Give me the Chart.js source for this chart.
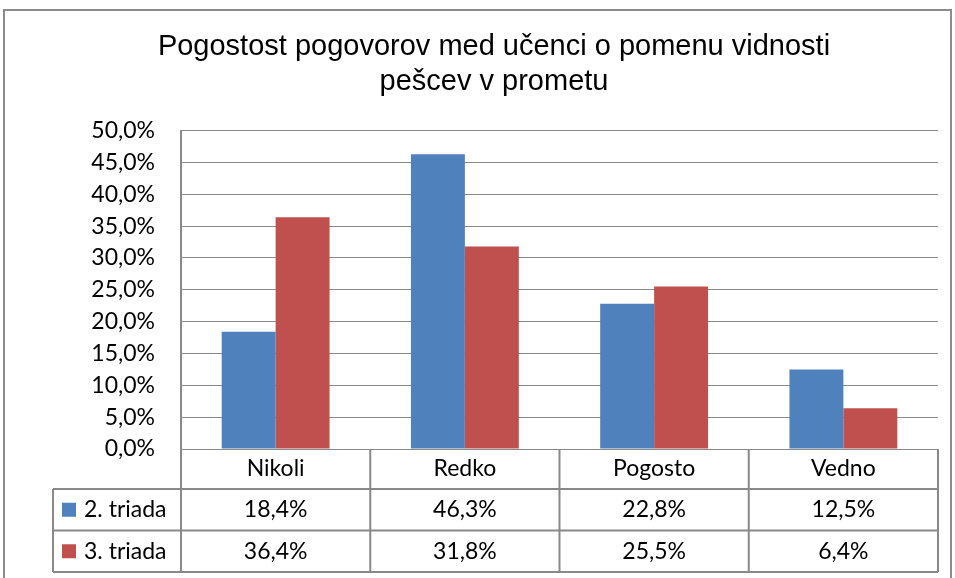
<!DOCTYPE html>
<html><head><meta charset="utf-8">
<script src="https://cdn.jsdelivr.net/npm/chart.js@4"></script>
<style>html,body{margin:0;padding:0;background:#fff}#wrap{width:955px;height:578px;position:relative}</style>
</head><body><div id="wrap"><canvas id="c" width="955" height="578"></canvas></div>
<script>
const categories = ['Nikoli', 'Redko', 'Pogosto', 'Vedno'];
const seriesNames = ['2. triada', '3. triada'];
const triada2 = [18.4, 46.3, 22.8, 12.5];
const triada3 = [36.4, 31.8, 25.5, 6.4];
const titleLines = ['Pogostost pogovorov med učenci o pomenu vidnosti', 'pešcev v prometu'];
const colors = ['#4F81BD', '#C0504D'];

const fmt = v => v.toFixed(1).replace('.', ',') + '%';
const FONT = 'Lato, "Open Sans", sans-serif';
const LINE = '#898989';

const tablePlugin = {
  id: 'dataTable',
  afterDraw(chart) {
    const ctx = chart.ctx;
    const x = chart.scales.x, area = chart.chartArea;
    const top = area.bottom, rowH = 41.5;
    const left = 53;
    const bounds = [];
    for (let i = 0; i < categories.length; i++) {
      const c = x.getPixelForValue(i);
      const w = x.width / categories.length;
      bounds.push([c - w / 2, c + w / 2]);
    }
    ctx.save();
    ctx.strokeStyle = LINE;
    ctx.lineWidth = 2;
    const r1 = top + 40, r2 = r1 + rowH, r3 = r2 + rowH;
    ctx.beginPath();
    [r1, r2, r3].forEach(y => { ctx.moveTo(left, y); ctx.lineTo(area.right, y); });
    ctx.moveTo(left, r1); ctx.lineTo(left, r3);
    ctx.moveTo(area.left, top); ctx.lineTo(area.left, r3);
    bounds.forEach(b => { ctx.moveTo(b[1], top); ctx.lineTo(b[1], r3); });
    ctx.stroke();
    ctx.fillStyle = '#000';
    ctx.font = '23px ' + FONT;
    ctx.textAlign = 'center';
    ctx.textBaseline = 'middle';
    categories.forEach((c, i) => ctx.fillText(c, x.getPixelForValue(i), top + 20));
    const rows = [triada2, triada3];
    rows.forEach((vals, k) => {
      const yc = (k === 0 ? (r1 + r2) / 2 : (r2 + r3) / 2);
      vals.forEach((v, i) => ctx.fillText(fmt(v), x.getPixelForValue(i), yc));
      ctx.fillStyle = colors[k];
      ctx.fillRect(62, yc - 7, 14, 14);
      ctx.fillStyle = '#000';
      ctx.textAlign = 'left';
      ctx.fillText(seriesNames[k], 84, yc);
      ctx.textAlign = 'center';
    });
    ctx.lineWidth = 2;
    ctx.strokeStyle = '#8c8c8c';
    ctx.strokeRect(4, 10, 947, 620);
    ctx.restore();
  }
};

new Chart(document.getElementById('c'), {
  type: 'bar',
  data: {
    labels: categories,
    datasets: [
      { label: seriesNames[0], data: triada2, backgroundColor: colors[0] },
      { label: seriesNames[1], data: triada3, backgroundColor: colors[1] }
    ]
  },
  options: {
    responsive: false,
    animation: false,
    devicePixelRatio: 1,
    layout: { padding: { left: 50, right: 17, top: 10, bottom: 129 } },
    datasets: { bar: { categoryPercentage: 0.57, barPercentage: 1 } },
    plugins: {
      legend: { display: false },
      tooltip: { enabled: false },
      title: {
        display: true,
        text: titleLines,
        color: '#000',
        font: { family: '"Liberation Sans", Arial, sans-serif', size: 29, weight: 'normal', lineHeight: 1.2 },
        padding: { top: 19.5, bottom: 31.5 }
      }
    },
    scales: {
      x: { display: false },
      y: {
        min: 0, max: 50,
        afterFit(s) { s.width = 131; },
        ticks: { stepSize: 5, callback: v => fmt(v), color: '#000', padding: 26, font: { family: FONT, size: 23 } },
        grid: { color: LINE, lineWidth: 1, drawTicks: false },
        border: { color: LINE, width: 2 }
      }
    }
  },
  plugins: [tablePlugin]
});
</script>
</body></html>
